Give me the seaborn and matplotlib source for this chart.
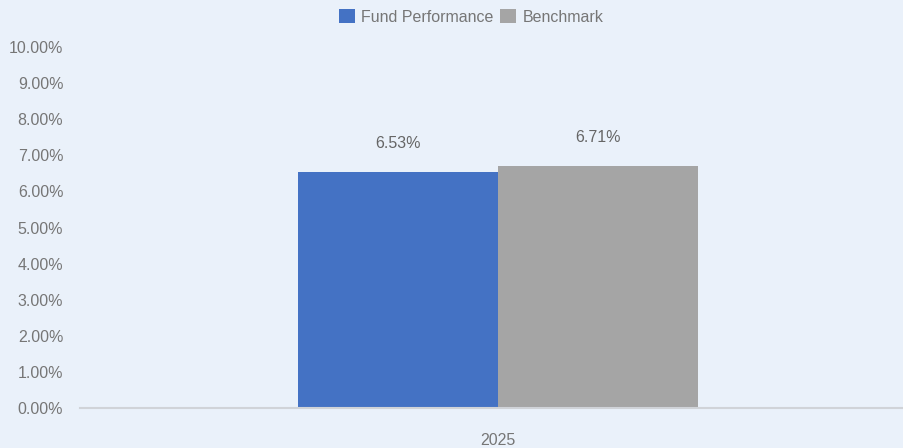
import matplotlib
matplotlib.use("Agg")
import matplotlib.pyplot as plt
import seaborn as sns
import pandas as pd
from matplotlib.ticker import FuncFormatter

years = ["2025"]
series = ["Fund Performance", "Benchmark"]
fund = [6.53]
bench = [6.71]
colors = ["#4472C4", "#A5A5A5"]
yticks = [0, 1, 2, 3, 4, 5, 6, 7, 8, 9, 10]

df = pd.DataFrame({
    "year": years * 2,
    "series": [series[0]] * len(years) + [series[1]] * len(years),
    "value": fund + bench,
})

sns.set_theme(style="white")
plt.rcParams["font.family"] = ["Liberation Sans", "DejaVu Sans"]
bg = "#EAF1FA"
txt = "#767676"

fig = plt.figure(figsize=(9.04, 4.48), dpi=100, facecolor=bg)
ax = fig.add_axes([80 / 904, 40 / 448, 824 / 904, 361 / 448])
ax.set_facecolor(bg)

sns.barplot(data=df, x="year", y="value", hue="series", palette=colors,
            hue_order=series, order=years, width=0.8, saturation=1,
            edgecolor="none", linewidth=0, ax=ax, legend=True)

for cont in ax.containers:
    for bar in cont:
        h = bar.get_height()
        ax.annotate(f"{h:.2f}%", (bar.get_x() + bar.get_width() / 2, h),
                    xytext=(0, 15), textcoords="offset points",
                    ha="center", va="bottom", fontsize=11.5, color="#666666")

ax.set_ylim(0, 10)
ax.set_xlim(-0.836, 0.812)
ax.set_yticks(yticks)
ax.yaxis.set_major_formatter(FuncFormatter(lambda v, p: f"{v:.2f}%"))
ax.tick_params(axis="y", length=0, pad=12, labelsize=11.5, labelcolor=txt)
ax.tick_params(axis="x", length=0, pad=18, labelsize=11.5, labelcolor=txt)
ax.set_xlabel("")
ax.set_ylabel("")
for s in ["top", "right", "left"]:
    ax.spines[s].set_visible(False)
ax.spines["bottom"].set_color("#D0D3D8")
ax.spines["bottom"].set_linewidth(1.5)

ax.legend(loc="center", bbox_to_anchor=((471 - 80) / 824, 1 + 30 / 361), ncol=2,
          frameon=False, fontsize=11.5, handlelength=1.0, handleheight=1.0,
          handletextpad=0.4, columnspacing=0.4, labelcolor=txt,
          bbox_transform=ax.transAxes, borderpad=0)

fig.savefig("out.png", dpi=100, facecolor=bg)
